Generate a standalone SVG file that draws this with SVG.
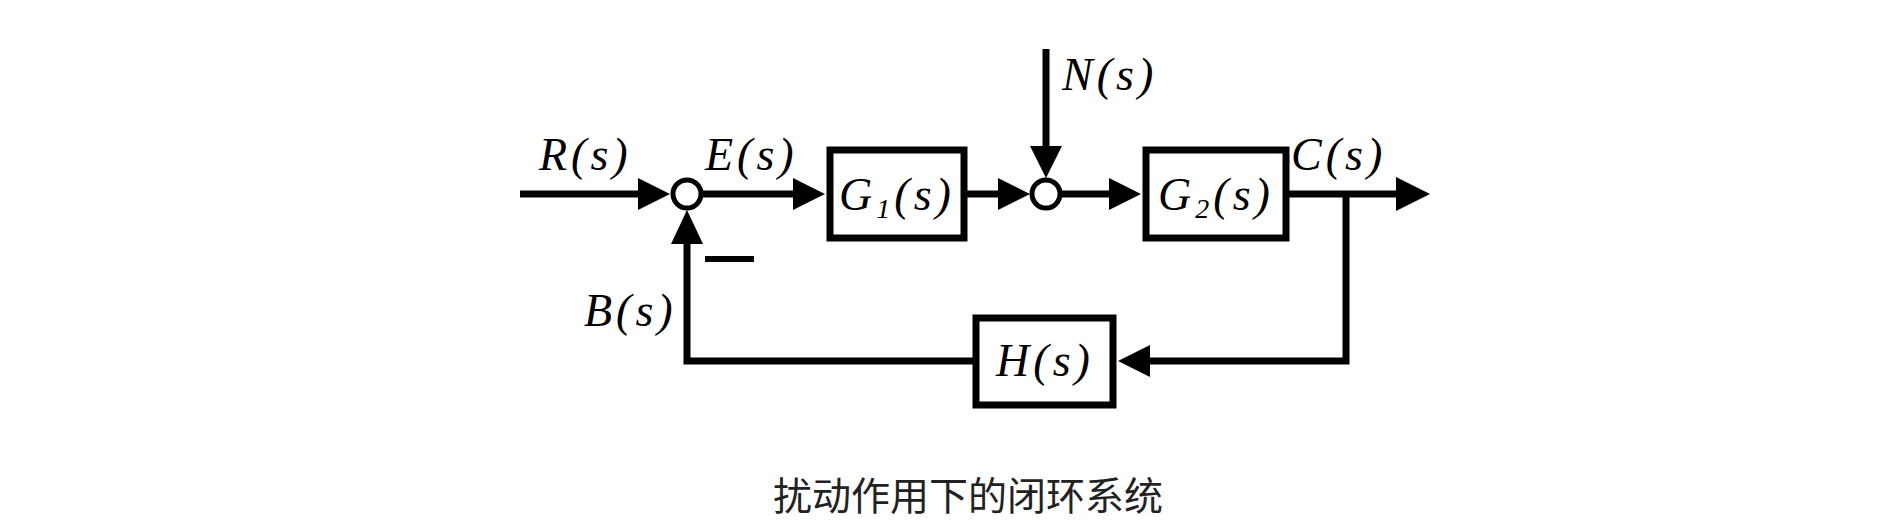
<svg xmlns="http://www.w3.org/2000/svg" width="1897" height="530" viewBox="0 0 1897 530">
<style>
.w{fill:none;stroke:#000;stroke-width:7}
.b{fill:#fff;stroke:#000;stroke-width:7}
.s{fill:#fff;stroke:#000;stroke-width:5}
.a{fill:#000}
.t{font-family:"Liberation Serif",serif;font-style:italic;font-size:46px;fill:#000;letter-spacing:4px}
.c{font-family:"Noto Sans CJK SC",sans-serif;font-size:39px;fill:#222}
</style>
<rect width="1897" height="530" fill="#fff"/>
<g id="connectors">
<path class="w" d="M520 194H655"/><polygon class="a" points="670,194 638,178 638,210"/>
<path class="w" d="M703 194H805"/><polygon class="a" points="825,194 793,178 793,210"/>
<path class="w" d="M967 194H1015"/><polygon class="a" points="1030,194 998,178 998,210"/>
<path class="w" d="M1062 194H1120"/><polygon class="a" points="1141,194 1109,178 1109,210"/>
<path class="w" d="M1289 194H1405"/><polygon class="a" points="1430,194 1396,177 1396,211"/>
<path class="w" d="M1046 49V165"/><polygon class="a" points="1046,178 1030,146 1062,146"/>
<path class="w" d="M1346 194V361H1140"/><polygon class="a" points="1118,361 1150,345 1150,377"/>
<path class="w" d="M973 361H687V235"/><polygon class="a" points="687,210 671,244 703,244"/>
<path d="M705 259H754" stroke="#000" stroke-width="6"/>
</g>
<g id="sum1"><circle class="s" cx="687" cy="194" r="14"/></g>
<g id="sum2"><circle class="s" cx="1046" cy="194" r="14"/></g>
<g id="G1"><rect class="b" x="830" y="150" width="134" height="88"/><text class="t" x="897" y="210" text-anchor="middle">G<tspan font-size="28" dy="8">1</tspan><tspan dy="-8">(s)</tspan></text></g>
<g id="G2"><rect class="b" x="1146" y="150" width="140" height="88"/><text class="t" x="1216" y="210" text-anchor="middle">G<tspan font-size="28" dy="8">2</tspan><tspan dy="-8">(s)</tspan></text></g>
<g id="H"><rect class="b" x="976" y="318" width="137" height="87"/><text class="t" x="1045" y="376" text-anchor="middle">H(s)</text></g>
<g id="labels">
<text class="t" x="539" y="170">R(s)</text>
<text class="t" x="705" y="170">E(s)</text>
<text class="t" x="584" y="326">B(s)</text>
<text class="t" x="1062" y="90">N(s)</text>
<text class="t" x="1291" y="170">C(s)</text>
<text class="c" x="968" y="510" text-anchor="middle">扰动作用下的闭环系统</text>
</g>
</svg>
